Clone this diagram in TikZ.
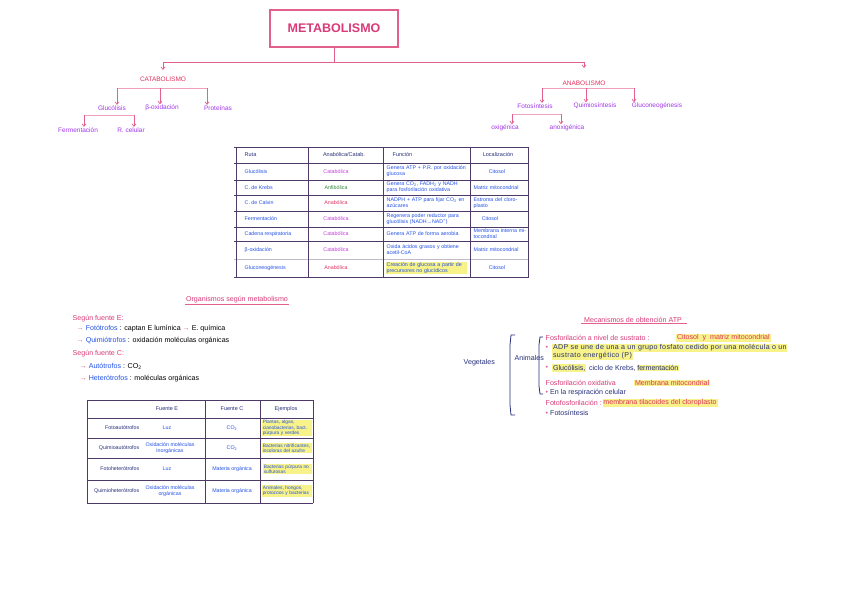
\documentclass[tikz,border=0pt]{standalone}
\usepackage{fontspec}
\setmainfont{Liberation Sans}
\usetikzlibrary{arrows.meta}
\definecolor{pinkT}{HTML}{D93A78}
\definecolor{pinkL}{HTML}{E4608C}
\definecolor{pinkLL}{HTML}{F0A2BC}
\definecolor{redP}{HTML}{E0325F}
\definecolor{purp}{HTML}{A238EC}
\definecolor{blueT}{HTML}{2352E6}
\definecolor{navy}{HTML}{26307A}
\definecolor{tborder}{HTML}{4E3A66}
\definecolor{hl}{HTML}{F7F28A}
\definecolor{greenT}{HTML}{2F8A3C}
\definecolor{magC}{HTML}{C23ED6}
\begin{document}
\begin{tikzpicture}[x=1pt,y=-1pt,
  titlebox/.style={draw=pinkL,line width=1.4pt,minimum width=128pt,minimum height=37pt,text=pinkT,font=\fontsize{12.5}{14}\selectfont\bfseries},
  tline/.style={draw=pinkL,line width=0.9pt},
  tline2/.style={draw=pinkLL,line width=0.8pt},
  tarrow/.style={draw=pinkL,line width=0.7pt,-{Straight Barb[length=2.5pt,width=4pt]}},
  tcat/.style={text=redP,font=\fontsize{6.5}{7}\selectfont,inner sep=0.5pt},
  tch/.style={text=purp,font=\fontsize{6.5}{7}\selectfont,inner sep=0.5pt},
  cell/.style={font=\fontsize{5.3}{5.9}\selectfont,inner sep=0.5pt,align=left},
  bcell/.style={font=\fontsize{4.8}{5.4}\selectfont,inner sep=0.6pt,align=left},
  hdr/.style={font=\fontsize{5.5}{6}\selectfont,inner sep=0.5pt,text=navy},
  grid/.style={draw=tborder,line width=0.9pt},
  mid/.style={font=\fontsize{7.1}{8}\selectfont,inner sep=0.5pt,anchor=west},
  hil/.style={fill=hl,inner sep=0.8pt},
]
\useasboundingbox[fill=white] (0,0) rectangle (848,601);

% ---------- title and trees ----------
\node[titlebox] (title) at (334,28.5) {METABOLISMO};
\coordinate (jl) at (163,62);
\coordinate (jr) at (584,62);
\node[tcat] (catab) at (163,79) {CATABOLISMO};
\node[tcat] (anab) at (584,83) {ANABOLISMO};
\draw[tline] (title.south) -- (title.south |- jl);
\draw[tline] (jl) -- (jr);
\draw[tarrow] (jl) -- ++(0,8);
\draw[tarrow] (jr) -- ++(0,6);

% catabolism children
\coordinate (cl) at (117,88);
\coordinate (cm) at (160,88);
\coordinate (cr) at (207,88);
\node[tch] (gluc) at (112,108) {Glucólisis};
\node[tch] (boxi) at (162,108) {β-oxidación};
\node[tch] (prot) at (218,108) {Proteínas};
\draw[tline2] (cl) -- (cr);
\draw[tarrow] (cl) -- (cl |- gluc.north);
\draw[tarrow] (cm) -- (cm |- boxi.north);
\draw[tarrow] (cr) -- (cr |- prot.north);
\coordinate (gl) at (84,115);
\coordinate (gr) at (134,115);
\node[tch] (ferm) at (78,130) {Fermentación};
\node[tch] (rcel) at (131,130) {R. celular};
\draw[tline2] (gl) -- (gr);
\draw[tarrow] (gl) -- (gl |- ferm.north);
\draw[tarrow] (gr) -- (gr |- rcel.north);

% anabolism children
\coordinate (al) at (542,88);
\coordinate (am) at (586,88);
\coordinate (ar) at (634,88);
\node[tch] (fotos) at (535,106) {Fotosíntesis};
\node[tch] (quim) at (595,106) {Quimiosíntesis};
\node[tch] (glneo) at (657,106) {Gluconeogénesis};
\draw[tline2] (al) -- (ar);
\draw[tarrow] (al) -- (al |- fotos.north);
\draw[tarrow] (am) -- (am |- quim.north);
\draw[tarrow] (ar) -- (ar |- glneo.north);
\coordinate (fl) at (512,114);
\coordinate (fr) at (561,114);
\node[tch] (oxig) at (505,128) {oxigénica};
\node[tch] (anox) at (567,128) {anoxigénica};
\draw[tline2] (fl) -- (fr);
\draw[tarrow] (fl) -- (fl |- oxig.north);
\draw[tarrow] (fr) -- (fr |- anox.north);

% ---------- routes table ----------
\foreach \y in {147,163,180,195,211,227,241,277}
  \draw[grid] (234,\y) -- (529,\y);
\draw[draw=tborder!35,line width=0.6pt] (234,259) -- (529,259);
\foreach \x in {236,308,383,470,528}
  \draw[grid] (\x,147) -- (\x,277);

\node[hdr,anchor=west] (h1) at (244,155) {Ruta};
\node[hdr] (h2) at (344,155) {Anabólica/Catab.};
\node[hdr,anchor=west] (h3) at (392,155) {Función};
\node[hdr] (h4) at (498,155) {Localización};

\node[cell,anchor=west,text=blueT] (r1a) at (244,171.5) {Glucólisis};
\node[cell,text=magC] (r1b) at (336,171.5) {Catabólica};
\node[cell,anchor=west,text=blueT,text width=80pt] (r1c) at (386,171.5) {Genera ATP + P.R. por oxidación glucosa};
\node[cell,text=blueT] (r1d) at (497,171.5) {Citosol};

\node[cell,anchor=west,text=blueT] (r2a) at (244,187.5) {C. de Krebs};
\node[cell,text=greenT] (r2b) at (336,187.5) {Anfibólica};
\node[cell,anchor=west,text=blueT,text width=82pt] (r2c) at (386,187.5) {Genera CO\textsubscript{2}, FADH\textsubscript{2} y NADH para fosforilación oxidativa};
\node[cell,anchor=west,text=blueT,text width=55pt] (r2d) at (473,187.5) {Matriz mitocondrial};

\node[cell,anchor=west,text=blueT] (r3a) at (244,203) {C. de Calvin};
\node[cell,text=redP] (r3b) at (336,203) {Anabólica};
\node[cell,anchor=west,text=blueT,text width=82pt] (r3c) at (386,203) {NADPH + ATP para fijar CO\textsubscript{2} en azúcares};
\node[cell,anchor=west,text=blueT,text width=55pt] (r3d) at (473,203) {Estroma del cloroplasto};

\node[cell,anchor=west,text=blueT] (r4a) at (244,219) {Fermentación};
\node[cell,text=magC] (r4b) at (336,219) {Catabólica};
\node[cell,anchor=west,text=blueT,text width=82pt] (r4c) at (386,219) {Regenera poder reductor para glucólisis (NADH→NAD\textsuperscript{+})};
\node[cell,text=blueT] (r4d) at (490,219) {Citosol};

\node[cell,anchor=west,text=blueT] (r5a) at (244,234) {Cadena respiratoria};
\node[cell,text=magC] (r5b) at (336,234) {Catabólica};
\node[cell,anchor=west,text=blueT,text width=82pt] (r5c) at (386,234) {Genera ATP de forma aerobia};
\node[cell,anchor=west,text=blueT,text width=55pt] (r5d) at (473,234) {Membrana interna mitocondrial};

\node[cell,anchor=west,text=blueT] (r6a) at (244,250) {β-oxidación};
\node[cell,text=magC] (r6b) at (336,250) {Catabólica};
\node[cell,anchor=west,text=blueT,text width=82pt] (r6c) at (386,250) {Oxida ácidos grasos y obtiene acetil-CoA};
\node[cell,anchor=west,text=blueT,text width=55pt] (r6d) at (473,250) {Matriz mitocondrial};

\node[cell,anchor=west,text=blueT] (r7a) at (244,268) {Gluconeogénesis};
\node[cell,text=redP] (r7b) at (336,268) {Anabólica};
\node[cell,anchor=west,text=blueT,text width=80pt,fill=hl] (r7c) at (386,268) {Creación de glucosa a partir de precursores no glucídicos};
\node[cell,text=blueT] (r7d) at (497,268) {Citosol};

% ---------- organisms text ----------
\node[font=\fontsize{7.1}{8}\selectfont,text=pinkT,inner sep=0.5pt] (orgh) at (237,300) {Organismos según metabolismo};
\draw[draw=pinkL,line width=0.6pt] (orgh.south west) -- (orgh.south east);
\node[mid,text=pinkT] (se) at (72,319) {Según fuente E:};
\node[mid] (fot) at (76,329) {{\color{pinkL}→} {\color{blueT}Fotótrofos} : captan E lumínica {\color{pinkL}→} E. química};
\node[mid] (qui) at (76,341) {{\color{pinkL}→} {\color{blueT}Quimiótrofos} : oxidación moléculas orgánicas};
\node[mid,text=pinkT] (sc) at (72,354) {Según fuente C:};
\node[mid] (aut) at (79,366) {{\color{pinkL}→} {\color{blueT}Autótrofos} : CO\textsubscript{2}};
\node[mid] (het) at (79,379) {{\color{pinkL}→} {\color{blueT}Heterótrofos} : moléculas orgánicas};

% ---------- organisms table ----------
\foreach \y in {400,418,438,458,480,503}
  \draw[grid] (87,\y) -- (313,\y);
\foreach \x in {87,205,260,313}
  \draw[grid] (\x,400) -- (\x,503);
\node[hdr] (bh2) at (167,409) {Fuente E};
\node[hdr] (bh3) at (232,409) {Fuente C};
\node[hdr] (bh4) at (286,409) {Ejemplos};

\node[cell,anchor=east,text=navy] (b1a) at (140,428) {Fotoautótrofos};
\node[cell,text=blueT] (b1b) at (167,428) {Luz};
\node[cell,text=blueT] (b1c) at (232,428) {CO\textsubscript{2}};
\node[bcell,anchor=west,text=blueT,text width=49pt,fill=hl] (b1d) at (262,428) {Plantas, algas, cianobacterias, bact. púrpura y verdes};

\node[cell,anchor=east,text=navy] (b2a) at (140,448) {Quimioautótrofos};
\node[cell,text=blueT,align=center] (b2b) at (170,448) {Oxidación moléculas\\inorgánicas};
\node[cell,text=blueT] (b2c) at (232,448) {CO\textsubscript{2}};
\node[bcell,anchor=west,text=blueT,text width=49pt,fill=hl] (b2d) at (262,448) {Bacterias nitrificantes, incoloras del azufre};

\node[cell,anchor=east,text=navy] (b3a) at (140,469) {Fotoheterótrofos};
\node[cell,text=blueT] (b3b) at (167,469) {Luz};
\node[cell,text=blueT] (b3c) at (232,469) {Materia orgánica};
\node[bcell,anchor=west,text=blueT,text width=48pt,fill=hl] (b3d) at (263,469) {Bacterias púrpura no sulfurosas};

\node[cell,anchor=east,text=navy] (b4a) at (140,491) {Quimioheterótrofos};
\node[cell,text=blueT,align=center] (b4b) at (170,491) {Oxidación moléculas\\orgánicas};
\node[cell,text=blueT] (b4c) at (232,491) {Materia orgánica};
\node[bcell,anchor=west,text=blueT,text width=49pt,fill=hl] (b4d) at (262,491) {Animales, hongos, protozoos y bacterias};

% ---------- ATP mechanisms ----------
\node[font=\fontsize{7.1}{8}\selectfont,text=pinkT,inner sep=0.5pt] (atph) at (633,320) {Mecanismos de obtención ATP};
\draw[draw=pinkL,line width=0.6pt] ([xshift=-2pt]atph.south west) -- ([xshift=4pt]atph.south east);
\node[mid,text=navy] (veg) at (463,363) {Vegetales};
\draw[draw=navy,line width=0.8pt] (515,335) -- (511,335) -- (510,345) -- (510,405) -- (511,415) -- (515,415);
\node[mid,text=navy] (ani) at (514,358) {Animales};
\draw[draw=navy,line width=0.8pt] (543,337) -- (540,337) -- (539,345) -- (539,386) -- (540,394) -- (543,394);

\node[mid,text=pinkT] (m1) at (545,338) {Fosforilación a nivel de sustrato :};
\node[mid,hil,text=redP] (m1b) at (676,338) {Citosol \ y \ matriz mitocondrial};
\node[mid,text=pinkL] (m2dot) at (545,348) {•};
\node[mid,hil,text=navy] (m2) at (552,348) {\addfontfeature{LetterSpace=5}ADP se une de una a un grupo fosfato cedido por una molécula o un};
\node[mid,hil,text=navy] (m2b) at (552,356) {\addfontfeature{LetterSpace=5}sustrato energético (P)};
\node[mid,text=pinkL] (m3dot) at (545,368) {•};
\node[mid,hil,text=navy] (m3a) at (552,368) {Glucólisis,};
\node[mid,text=navy] (m3b) at (m3a.east) {\ ciclo de Krebs,\ };
\node[mid,hil,text=navy] (m3c) at (m3b.east) {fermentación};
\node[mid,text=pinkT] (m4) at (545,383) {Fosforilación oxidativa};
\node[mid,hil,text=redP] (m4b) at (634,383) {Membrana mitocondrial};
\node[mid,text=navy] (m5) at (545,393) {{\color{pinkL}•} En la respiración celular};
\node[mid,text=pinkT] (m6) at (545,403) {Fotofosforilación :};
\node[mid,hil,text=redP] (m6b) at (m6.east) {membrana tilacoides del cloroplasto};
\node[mid,text=navy] (m7) at (545,413) {{\color{pinkL}•} Fotosíntesis};
\end{tikzpicture}
\end{document}
